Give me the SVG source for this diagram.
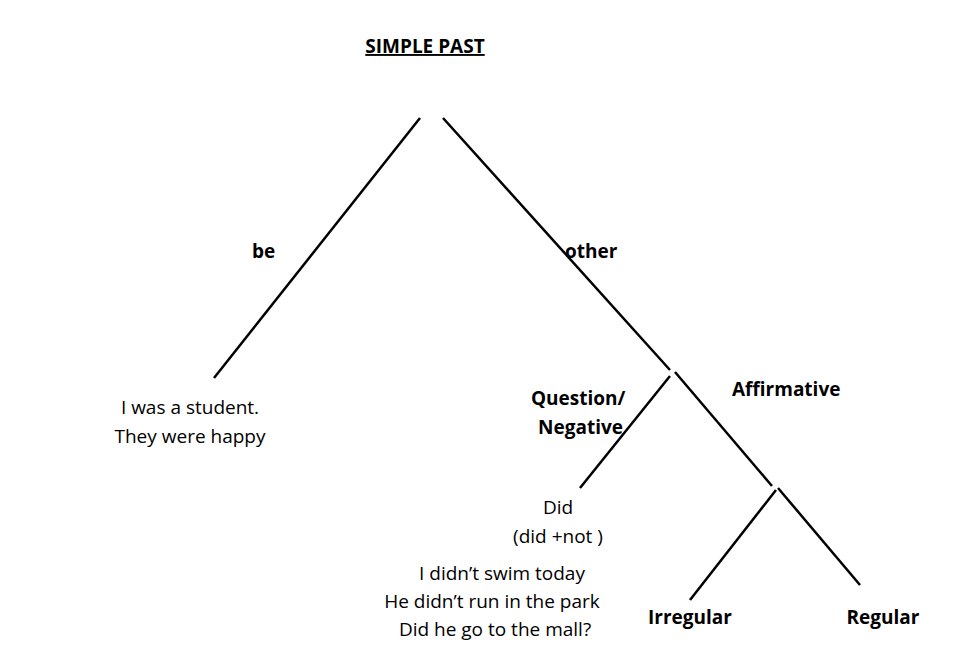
<svg xmlns="http://www.w3.org/2000/svg" width="968" height="656" viewBox="0 0 968 656">
<style>
text{font-family:"Open Sans","Liberation Sans",sans-serif;font-size:19px;fill:#000}
.b{font-weight:bold}
.c{text-anchor:middle}
line{stroke:#000;stroke-width:2.5}
</style>
<rect width="968" height="656" fill="#fff"/>
<g id="connectors">
<line x1="420" y1="118" x2="214" y2="378"/>
<line x1="443" y1="118" x2="670" y2="370"/>
<line x1="670" y1="376" x2="580" y2="488"/>
<line x1="675" y1="372" x2="772" y2="486"/>
<line x1="776" y1="490" x2="690" y2="600"/>
<line x1="778" y1="488" x2="860" y2="585"/>
</g>
<g id="title"><text class="b c" x="425" y="53" font-size="18" text-decoration="underline">SIMPLE PAST</text></g>
<g id="be"><text class="b" x="252" y="258">be</text></g>
<g id="other"><text class="b" x="565" y="258">other</text></g>
<g id="qn"><text class="b" x="531" y="405">Question/</text><text class="b" x="538" y="434">Negative</text></g>
<g id="aff"><text class="b" x="732" y="396">Affirmative</text></g>
<g id="be-ex"><text class="c" x="190" y="414">I was a student.</text><text class="c" x="190" y="443">They were happy</text></g>
<g id="did"><text class="c" x="558" y="514">Did</text><text class="c" x="558" y="543">(did +not )</text></g>
<g id="did-ex"><text class="c" x="502" y="580">I didn’t swim today</text><text class="c" x="492" y="608">He didn’t run in the park</text><text class="c" x="495" y="636">Did he go to the mall?</text></g>
<g id="irregular"><text class="b c" x="690" y="624">Irregular</text></g>
<g id="regular"><text class="b c" x="883" y="624">Regular</text></g>
</svg>
